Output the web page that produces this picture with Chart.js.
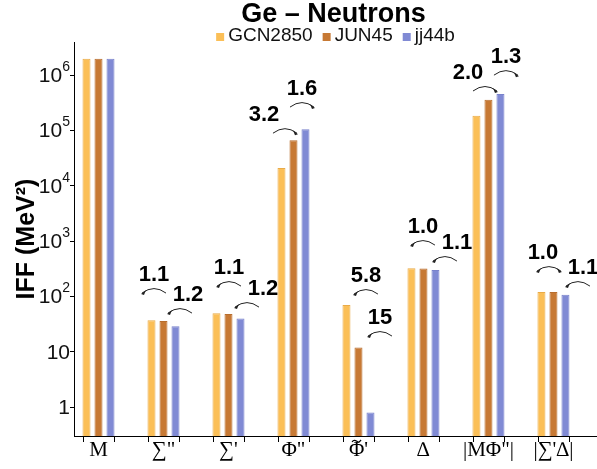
<!DOCTYPE html>
<html>
<head>
<meta charset="utf-8">
<script src="https://cdn.jsdelivr.net/npm/chart.js@4.4.0/dist/chart.umd.min.js"></script>
<style>
    html, body { margin: 0; padding: 0; background: #fff; }
    #wrap { width: 597px; height: 469px; position: relative; }
</style>
</head>
<body>
<div id="wrap"><canvas id="iff-chart"></canvas></div>
<script>
// Categories (x axis) and the three interactions
const categories = ['M', '\u2211"', "\u2211'", 'Φ"', "Φ\u0303'", '\u2206', '|MΦ"|', "|\u2211'\u2206|"];
const seriesNames = ['GCN2850', 'JUN45', 'jj44b'];
const gcn2850 = [2.0e6, 37, 50, 21000, 70, 325, 185000, 120];
const jun45   = [2.0e6, 36, 48, 67000, 12, 320, 360000, 120];
const jj44b   = [2.0e6, 29, 40, 106000, 0.8, 300, 460000, 108];
const seriesColors = ['#FBBF57', '#C77934', '#808AD4'];
const borderColors = ['#E9AB48', '#B86E2E', '#7982CC'];

// y ticks: mantissa text and exponent
const yTickValues = [1, 10, 100, 1000, 10000, 100000, 1000000];
const yTickBase = ['1', '10', '10', '10', '10', '10', '10'];
const yTickExp  = ['', '', '2', '3', '4', '5', '6'];

// ratio labels: x in category units, y in data units, arrow shift in px, head side
const ratioLabels = [
    { text: '1.1', x: 0.854, y: 244,    shift: 0,   head: 'left' },
    { text: '1.2', x: 1.377, y: 106,    shift: -8,  head: 'left' },
    { text: '1.1', x: 2.008, y: 326,    shift: 0,   head: 'left' },
    { text: '1.2', x: 2.531, y: 136,    shift: -16, head: 'left' },
    { text: '3.2', x: 2.546, y: 190000, shift: 21,  head: 'right' },
    { text: '1.6', x: 3.131, y: 563000, shift: 0,   head: 'right' },
    { text: '5.8', x: 4.115, y: 234,    shift: 0,   head: 'left' },
    { text: '15',  x: 4.331, y: 40.7,   shift: 0,   head: 'left' },
    { text: '1.0', x: 4.992, y: 1800,   shift: 0,   head: 'left' },
    { text: '1.1', x: 5.515, y: 925,    shift: -12, head: 'left' },
    { text: '2.0', x: 5.685, y: 1.1e6,  shift: 17,  head: 'right' },
    { text: '1.3', x: 6.269, y: 2.13e6, shift: 0,   head: 'right' },
    { text: '1.0', x: 6.838, y: 609,    shift: 6,   head: 'both' },
    { text: '1.1', x: 7.454, y: 326,    shift: -5,  head: 'left' }
];

const seriesValues = [gcn2850, jun45, jj44b];
const xFont = '"Liberation Serif", "Times New Roman", serif';

function arrowHead(ctx, x, y, dir) {
    // small filled head, pointing sideways and a bit down
    ctx.beginPath();
    ctx.moveTo(x, y);
    ctx.lineTo(x - dir * 5, y - 4);
    ctx.lineTo(x - dir * 3, y + 1);
    ctx.closePath();
    ctx.fill();
}

const headerPlugin = {
    id: 'header',
    afterDraw(chart) {
        const ctx = chart.ctx;
        const cx = (chart.chartArea.left + chart.chartArea.right) / 2;
        ctx.save();
        ctx.fillStyle = '#000';
        ctx.textAlign = 'center';
        ctx.textBaseline = 'alphabetic';
        ctx.font = 'bold 27px "Liberation Sans", Arial, sans-serif';
        ctx.fillText('Ge \u2013 Neutrons', cx - 2, 22);

        // legend
        ctx.font = '19px "Liberation Sans", Arial, sans-serif';
        const box = 8, gap = 4, spacing = 10;
        const widths = chart.data.datasets.map(d => ctx.measureText(d.label).width);
        let total = 0;
        widths.forEach((w, i) => { total += box + gap + w + (i ? spacing : 0); });
        let x = cx - total / 2;
        ctx.textAlign = 'left';
        chart.data.datasets.forEach((d, i) => {
            ctx.fillStyle = d.backgroundColor;
            ctx.fillRect(x, 33, box, box);
            ctx.fillStyle = '#111';
            ctx.fillText(d.label, x + box + gap, 41);
            x += box + gap + widths[i] + spacing;
        });

        // y tick labels with real superscripts
        const ys = chart.scales.y;
        const right = chart.chartArea.left - 4;
        yTickValues.forEach((v, i) => {
            const py = ys.getPixelForValue(v);
            ctx.fillStyle = '#111';
            ctx.textAlign = 'right';
            ctx.textBaseline = 'middle';
            let expW = 0;
            if (yTickExp[i]) {
                ctx.font = '14px "Liberation Sans", Arial, sans-serif';
                expW = ctx.measureText(yTickExp[i]).width;
                ctx.fillText(yTickExp[i], right, py - 8);
            }
            ctx.font = '21px "Liberation Sans", Arial, sans-serif';
            ctx.fillText(yTickBase[i], right - expW, py + 1);
        });

        // tilde accent over the Φ of the fifth category label
        const xs = chart.scales.x;
        ctx.font = '21px ' + xFont;
        const plain = categories[4].replace('\u0303', '');
        const w = ctx.measureText(plain).width;
        const wPhi = ctx.measureText('Φ').width;
        const tx = xs.getPixelForValue(4) - w / 2 + wPhi / 2;
        const ty = chart.chartArea.bottom + 5;
        ctx.strokeStyle = '#000';
        ctx.lineWidth = 1.2;
        ctx.beginPath();
        ctx.moveTo(tx - 4.5, ty + 1);
        ctx.bezierCurveTo(tx - 2.5, ty - 2.5, tx + 0, ty + 0.5, tx + 1.5, ty + 1);
        ctx.bezierCurveTo(tx + 3, ty + 1.5, tx + 4, ty - 0.5, tx + 4.5, ty - 1);
        ctx.stroke();
        ctx.restore();
    }
};

const ratioPlugin = {
    id: 'ratios',
    afterDatasetsDraw(chart) {
        const ctx = chart.ctx;
        const xs = chart.scales.x, ys = chart.scales.y;
        ctx.save();

        // tick marks at group edges on the x axis
        ctx.strokeStyle = '#000';
        ctx.lineWidth = 1;
        categories.forEach((c, i) => {
            [-0.24, 0.24].forEach(off => {
                const px = Math.round(xs.getPixelForValue(i + off)) + 0.5;
                ctx.beginPath();
                ctx.moveTo(px, chart.chartArea.bottom);
                ctx.lineTo(px, chart.chartArea.bottom + 6);
                ctx.stroke();
            });
        });

        ctx.font = 'bold 22px "Liberation Sans", Arial, sans-serif';
        ctx.textAlign = 'center';
        ctx.textBaseline = 'middle';
        ratioLabels.forEach(r => {
            const px = xs.getPixelForValue(r.x);
            const py = ys.getPixelForValue(r.y);
            ctx.fillStyle = '#000';
            ctx.fillText(r.text, px, py);

            const ax = px + r.shift, ay = py + 18;
            const x0 = ax - 12, x1 = ax + 12;
            ctx.strokeStyle = '#222';
            ctx.fillStyle = '#222';
            ctx.lineWidth = 1;
            ctx.beginPath();
            ctx.moveTo(x0, ay);
            ctx.quadraticCurveTo(ax, ay - 9, x1, ay);
            ctx.stroke();
            if (r.head === 'right' || r.head === 'both') arrowHead(ctx, x1 + 1, ay + 1, 1);
            if (r.head === 'left' || r.head === 'both') arrowHead(ctx, x0 - 1, ay + 1, -1);
        });
        ctx.restore();
    }
};

const ctx = document.getElementById('iff-chart').getContext('2d');
const chart = new Chart(ctx, {
    type: 'bar',
    data: {
        datasets: seriesNames.map((name, k) => ({
            label: name,
            data: seriesValues[k].map((v, i) => ({ x: i, y: v })),
            backgroundColor: seriesColors[k],
            borderColor: borderColors[k],
            borderWidth: 1,
            borderSkipped: 'bottom',
            categoryPercentage: 0.554,
            barPercentage: 0.667
        }))
    },
    options: {
        responsive: true,
        maintainAspectRatio: false,
        animation: false,
        layout: { padding: { top: 42, left: 0, right: 0, bottom: 0 } },
        plugins: {
            legend: { display: false },
            title: { display: false },
            tooltip: { enabled: false }
        },
        scales: {
            x: {
                type: 'linear',
                offset: false,
                min: -0.377,
                max: 7.67,
                afterBuildTicks: (scale) => {
                    scale.ticks = categories.map((c, i) => ({ value: i }));
                },
                afterFit: (scale) => { scale.height = 33; },
                grid: { display: true, drawOnChartArea: false, drawTicks: false, offset: false },
                border: { display: true, color: '#000', width: 1 },
                ticks: {
                    autoSkip: false,
                    maxRotation: 0,
                    padding: 2,
                    color: '#000',
                    font: { family: xFont, size: 21 },
                    // the tilde of the fifth label is drawn as an accent by the header plugin
                    callback: (value, index) => categories[index].replace('\u0303', '')
                }
            },
            y: {
                type: 'logarithmic',
                min: 0.3,
                max: 4e6,
                afterBuildTicks: (scale) => {
                    scale.ticks = yTickValues.map(v => ({ value: v }));
                },
                afterFit: (scale) => { scale.width = 74; },
                grid: { drawOnChartArea: false, tickLength: 4, color: '#000' },
                border: { display: true, color: '#000', width: 1 },
                ticks: {
                    padding: 0,
                    callback: () => ''
                },
                title: {
                    display: true,
                    text: 'IFF (MeV²)',
                    color: '#000',
                    font: { family: '"Liberation Sans", Arial, sans-serif', size: 25, weight: 'bold' },
                    padding: { top: 12, bottom: 0 }
                }
            }
        }
    },
    plugins: [headerPlugin, ratioPlugin]
});
</script>
</body>
</html>
